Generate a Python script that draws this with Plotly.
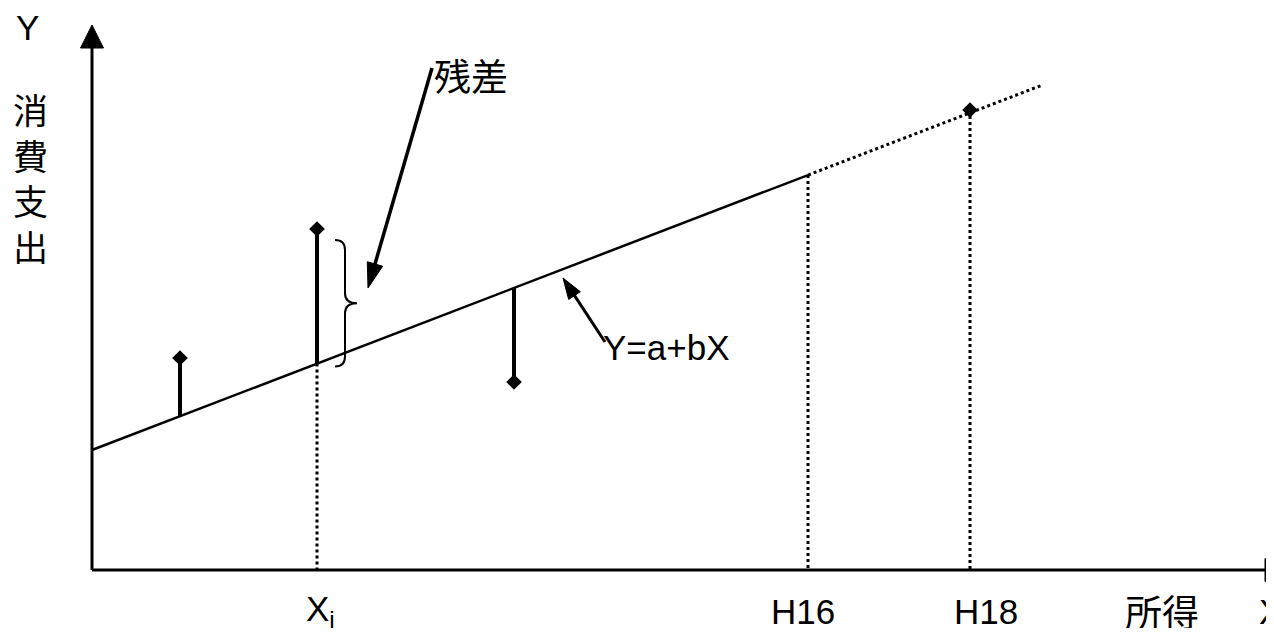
import math
import plotly.graph_objects as go

# 標本データ（所得 X, 消費支出 Y）
obs_x = [0.88, 2.25, 4.22]
obs_y = [2.12, 3.41, 1.88]

# 回帰直線 Y = a + bX
a_coef = 1.20
b_coef = 0.384

# 予測期間
x_h16 = 7.16
x_h18 = 8.78
y_h18 = 4.60
x_line_end = 9.51

# 横軸の目盛ラベル
tick_x = [2.25, 7.16, 8.78]
tick_text = ["X<sub>i</sub>", "H16", "H18"]

X_TIP = 11.96
Y_TIP = 5.45

FONT = "Liberation Sans, Noto Sans CJK JP, sans-serif"
CJK = "Noto Sans CJK JP, sans-serif"


def fitted(x):
    return a_coef + b_coef * x


def line(xs, ys, width, dash="solid"):
    return go.Scatter(x=xs, y=ys, mode="lines", line=dict(color="black", width=width, dash=dash),
                      hoverinfo="skip", showlegend=False)


def arrow(x0, y0, x1, y1, head_len, head_w, width):
    dx, dy = x1 - x0, y1 - y0
    d = math.hypot(dx, dy)
    ux, uy = dx / d, dy / d
    bx, by = x1 - ux * head_len, y1 - uy * head_len
    px, py = -uy * head_w / 2, ux * head_w / 2
    shaft = line([x0, bx + ux * 0.02], [y0, by + uy * 0.02], width)
    head = go.Scatter(x=[x1, bx + px, bx - px, x1], y=[y1, by + py, by - py, y1], mode="lines",
                      fill="toself", fillcolor="black", line=dict(color="black", width=1),
                      hoverinfo="skip", showlegend=False)
    return [shaft, head]


fig = go.Figure()

# 座標軸
for t in arrow(0, 0, 0, Y_TIP, 0.23, 0.23, 3):
    fig.add_trace(t)
for t in arrow(0, 0, X_TIP, 0, 0.23, 0.23, 3):
    fig.add_trace(t)

# 回帰直線（実線部分と点線の延長）
fig.add_trace(line([0, x_h16], [fitted(0), fitted(x_h16)], 2.5))
fig.add_trace(line([x_h16, x_line_end], [fitted(x_h16), fitted(x_line_end)], 3, "dot"))

# 残差
for xv, yv in zip(obs_x, obs_y):
    fig.add_trace(line([xv, xv], [yv, fitted(xv)], 4))

# 補助の点線
fig.add_trace(line([obs_x[1], obs_x[1]], [fitted(obs_x[1]), 0], 3, "dot"))
fig.add_trace(line([x_h16, x_h16], [fitted(x_h16), 0], 3, "dot"))
fig.add_trace(line([x_h18, x_h18], [y_h18, 0], 3, "dot"))

# 観測点
fig.add_trace(go.Scatter(x=obs_x + [x_h18], y=obs_y + [y_h18], mode="markers",
                         marker=dict(symbol="diamond", size=12, color="black"),
                         hoverinfo="skip", showlegend=False))

# 注記の矢印
for t in arrow(3.40, 5.02, 2.76, 2.82, 0.25, 0.16, 3.5):
    fig.add_trace(t)
for t in arrow(5.13, 2.28, 4.71, 2.92, 0.21, 0.14, 3):
    fig.add_trace(t)

# 中括弧
xi = obs_x[1]
top = obs_y[1] - 0.11
bot = fitted(xi) - 0.03
mid = (top + bot) / 2
r = 0.1
x0, x1, x2 = xi + 0.18, xi + 0.28, xi + 0.40
brace = (f"M{x0},{top} Q{x1},{top} {x1},{top - r} L{x1},{mid + r} Q{x1},{mid} {x2},{mid} "
         f"Q{x1},{mid} {x1},{mid - r} L{x1},{bot + r} Q{x1},{bot} {x0},{bot}")
fig.add_shape(type="path", path=brace, xref="x", yref="y", line=dict(color="black", width=2))


# テキスト
def label(x, y, text, size=35, family=FONT, xanchor="center", xshift=0):
    fig.add_annotation(x=x, y=y, text=text, showarrow=False, xref="x", yref="y",
                       xanchor=xanchor, yanchor="middle", xshift=xshift,
                       font=dict(family=family, size=size, color="black"))


label(-0.65, 5.43, "Y")
label(-0.62, 3.93, "消<br>費<br>支<br>出", size=35, family=CJK)
label(3.79, 4.95, "残差", size=37, family=CJK)
label(5.74, 2.23, "Y=a+bX")
for xv, txt, sh in zip(tick_x, tick_text, [3, -5, 16]):
    label(xv, -0.41, txt, xshift=sh)
label(10.70, -0.41, "所得", size=37, family=CJK)
label(11.65, -0.41, "X", xanchor="left")

# ページ本体の余白(8px)を考慮して図の大きさを決める
fig.update_layout(
    width=1266, height=620, autosize=False,
    margin=dict(l=0, r=0, t=0, b=0),
    paper_bgcolor="white", plot_bgcolor="white",
    xaxis=dict(range=[-0.84, 11.82], visible=False, fixedrange=True),
    yaxis=dict(range=[-0.58, 5.62], visible=False, fixedrange=True),
    showlegend=False,
)

fig.write_html("out.html")
